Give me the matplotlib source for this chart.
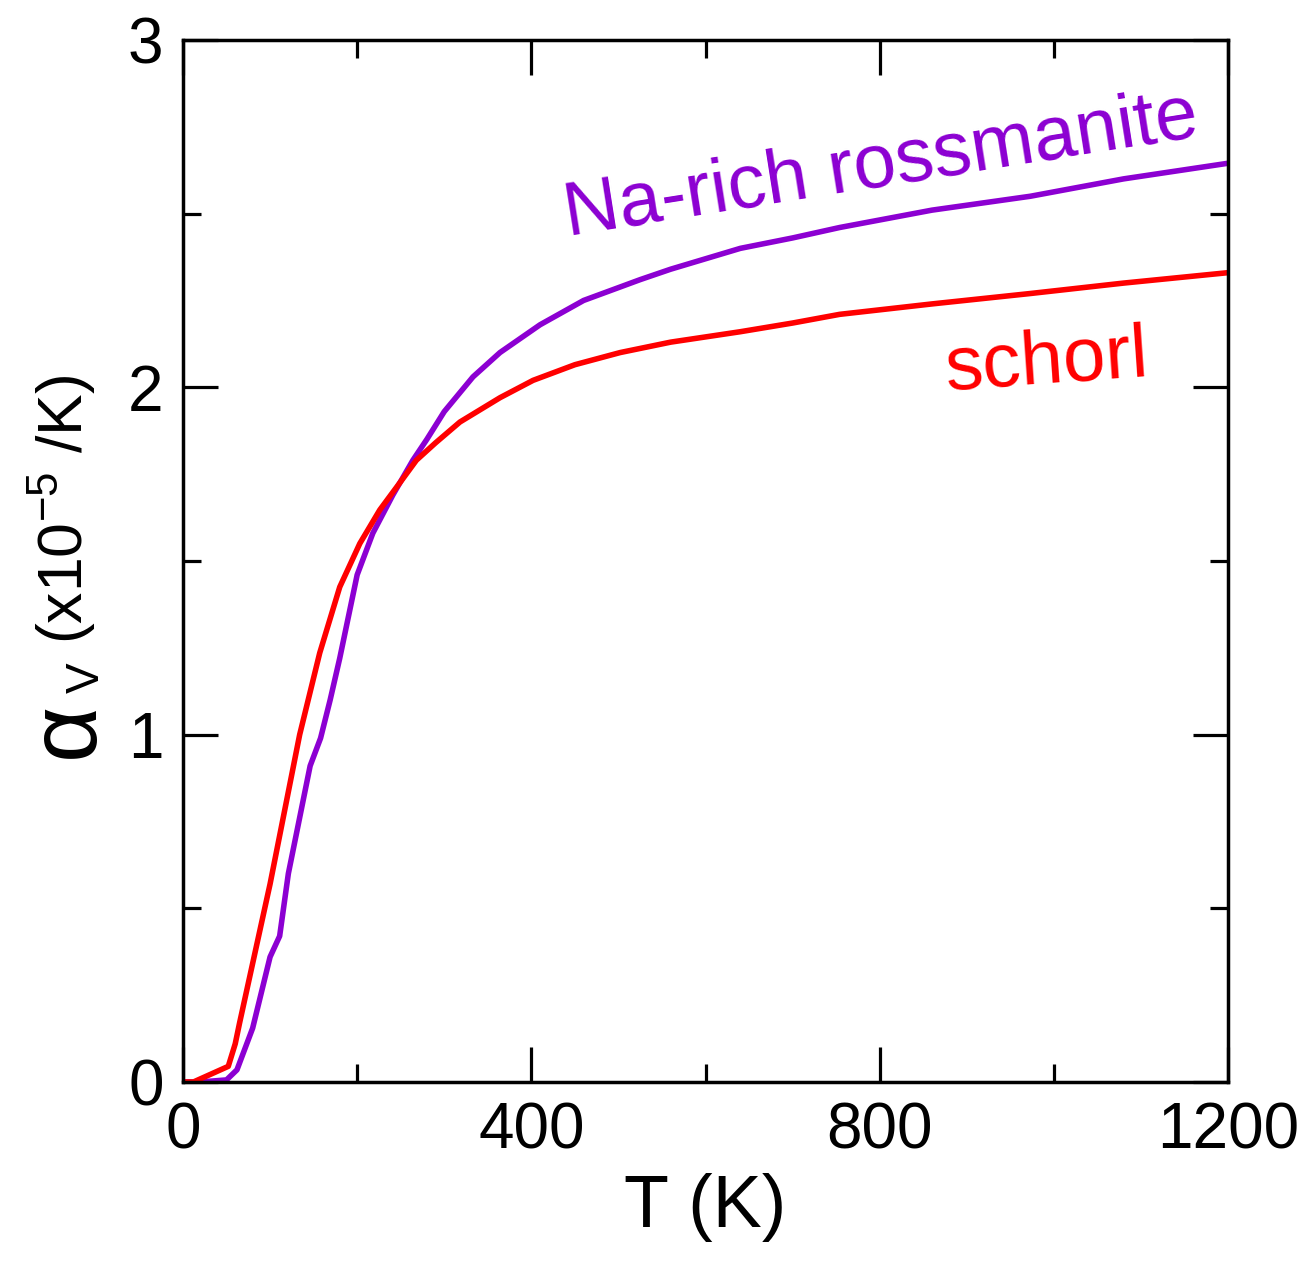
import matplotlib
matplotlib.use('Agg')
import matplotlib.pyplot as plt
from matplotlib.ticker import MultipleLocator

plt.rcParams['font.family'] = ['Liberation Sans', 'DejaVu Sans']
plt.rcParams['mathtext.fontset'] = 'custom'
plt.rcParams['mathtext.rm'] = 'Liberation Sans'
plt.rcParams['mathtext.it'] = 'Liberation Sans:italic'

# values (T in K, alpha_V in 1e-5 /K)
t_schorl = [0, 12, 52, 60, 65, 100, 134, 157, 180, 203, 226, 249, 268, 290, 318, 364,
            402, 450, 502, 560, 640, 700, 754, 860, 973, 1080, 1200]
a_schorl = [0, 0, 0.045, 0.11, 0.17, 0.57, 1.0, 1.235, 1.425, 1.55, 1.647, 1.725,
            1.79, 1.84, 1.90, 1.97, 2.02, 2.065, 2.10, 2.13, 2.16, 2.185, 2.21, 2.24,
            2.27, 2.30, 2.33]

t_ross = [0, 20, 50, 62, 80, 100, 111, 121, 146, 158, 169, 180, 200, 218, 241, 264,
          280, 300, 333, 364, 410, 460, 525, 560, 640, 700, 754, 860, 973, 1080, 1200]
a_ross = [0, 0, 0.006, 0.035, 0.155, 0.36, 0.42, 0.60, 0.91, 0.99, 1.10, 1.22, 1.46,
          1.58, 1.69, 1.79, 1.85, 1.93, 2.03, 2.10, 2.18, 2.25, 2.31, 2.34, 2.40, 2.43,
          2.46, 2.51, 2.55, 2.60, 2.645]

purple = '#8C00D2'
red = '#FF0000'

fig = plt.figure(figsize=(13.07, 12.64), dpi=100)
ax = fig.add_axes([0.140, 0.144, 0.7996, 0.8244])

ax.plot(t_ross, a_ross, color=purple, lw=4, solid_joinstyle='round')
ax.plot(t_schorl, a_schorl, color=red, lw=4, solid_joinstyle='round')

ax.text(802, 2.635, 'Na-rich rossmanite', color=purple, fontsize=55,
        rotation=9, ha='center', va='center')
ax.text(992, 2.068, 'schorl', color=red, fontsize=55,
        rotation=4, ha='center', va='center')

ax.set_xlim(0, 1200)
ax.set_ylim(0, 3)
ax.xaxis.set_major_locator(MultipleLocator(400))
ax.xaxis.set_minor_locator(MultipleLocator(200))
ax.yaxis.set_major_locator(MultipleLocator(1))
ax.yaxis.set_minor_locator(MultipleLocator(0.5))

ax.tick_params(which='both', direction='in', top=True, right=True, width=2.3,
               labelsize=46, pad=14)
ax.tick_params(which='major', length=25)
ax.tick_params(which='minor', length=13)
for s in ax.spines.values():
    s.set_linewidth(2.5)

ax.set_xlabel('T (K)', fontsize=53, labelpad=8)

# y label built from pieces so the alpha can be drawn larger
ax.text(-0.110, 0.3378, 'α', fontsize=70, rotation=90, ha='center', va='center',
        transform=ax.transAxes)
ax.text(-0.0925, 0.3877, 'V', fontsize=33, rotation=90, ha='center', va='center',
        transform=ax.transAxes)
ax.text(-0.116, 0.549, r'(x10$^{-5}$ /K)', fontsize=45, rotation=90, ha='center',
        va='center', transform=ax.transAxes)

fig.savefig('out.png', dpi=100)
